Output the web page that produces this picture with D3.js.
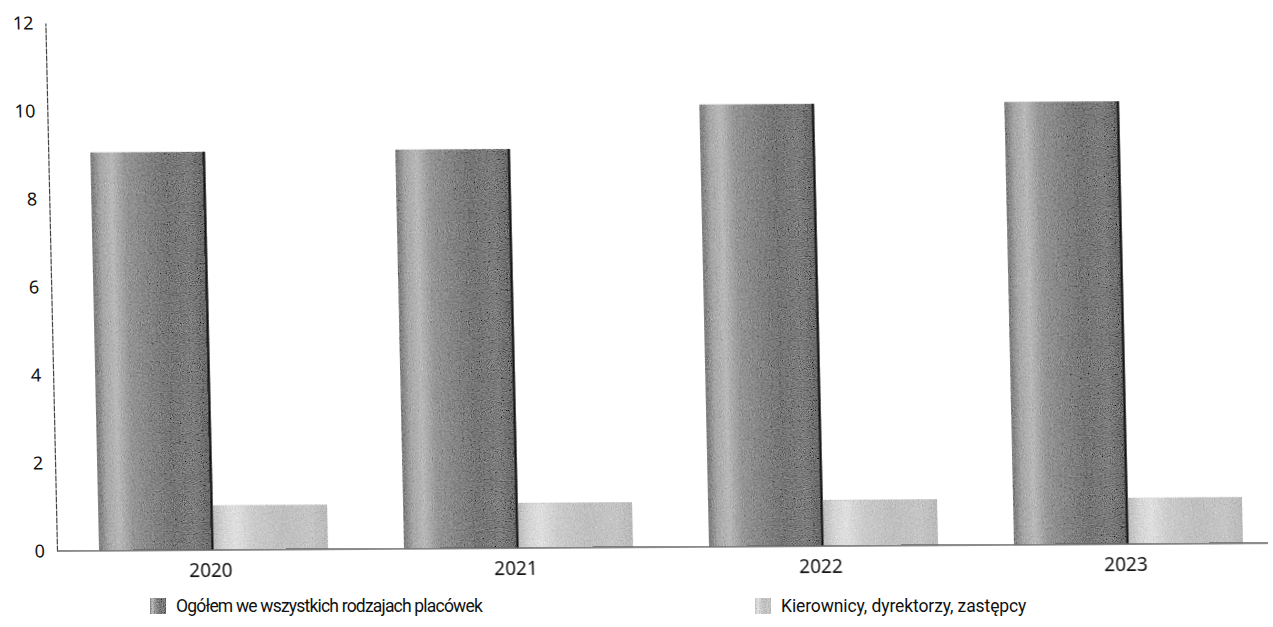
<!DOCTYPE html>
<html>
<head>
<meta charset="utf-8">
<script src="https://cdn.jsdelivr.net/npm/d3@7"></script>
<style>
  html, body { margin: 0; padding: 0; background: #fff; }
  svg { display: block; }
  text { font-family: "Noto Sans", "Open Sans", sans-serif; fill: #111; }
</style>
</head>
<body>
<svg id="chart" width="1273" height="627"></svg>
<script>
// Data
const years = ["2020", "2021", "2022", "2023"];
const ogolem = [9.05, 9.07, 10.05, 10.06];
const kierownicy = [1.01, 1.02, 1.04, 1.05];
const yTicks = [0, 2, 4, 6, 8, 10, 12];
const seriesNames = ["Ogółem we wszystkich rodzajach placówek", "Kierownicy, dyrektorzy, zastępcy"];

const origin = { x: 57, y: 551 };

const svg = d3.select("#chart");
const defs = svg.append("defs");

// Cylinder-style shading for the two series
function cylinder(id, stops) {
  const g = defs.append("linearGradient").attr("id", id)
    .attr("x1", "0%").attr("x2", "100%").attr("y1", "0%").attr("y2", "0%");
  stops.forEach(([o, c]) => g.append("stop").attr("offset", o).attr("stop-color", c));
}
cylinder("gDark", [
  ["0%", "#7a7a7a"], ["8%", "#a8a8a8"], ["18%", "#bababa"], ["30%", "#979797"],
  ["45%", "#888888"], ["65%", "#777777"], ["85%", "#7e7e7e"], ["100%", "#686868"]
]);
cylinder("gLight", [
  ["0%", "#bdbdbd"], ["10%", "#d6d6d6"], ["20%", "#e0e0e0"], ["35%", "#cccccc"],
  ["60%", "#c0c0c0"], ["85%", "#c6c6c6"], ["100%", "#bababa"]
]);

// Printed halftone grain on the filled areas
const grain = defs.append("filter").attr("id", "grain")
  .attr("x", "0").attr("y", "0").attr("width", "100%").attr("height", "100%");
grain.append("feTurbulence").attr("type", "fractalNoise").attr("baseFrequency", "0.9")
  .attr("numOctaves", 2).attr("seed", 7).attr("result", "noise");
grain.append("feColorMatrix").attr("in", "noise").attr("type", "matrix")
  .attr("values", "0.33 0.33 0.33 0 0  0.33 0.33 0.33 0 0  0.33 0.33 0.33 0 0  0 0 0 0 1")
  .attr("result", "gray");
grain.append("feComposite").attr("in", "SourceGraphic").attr("in2", "gray")
  .attr("operator", "arithmetic").attr("k1", 0).attr("k2", 1).attr("k3", 0.9).attr("k4", -0.45)
  .attr("result", "mix");
grain.append("feComposite").attr("in", "mix").attr("in2", "SourceGraphic").attr("operator", "in");

// Slight skew of the drawing around the plot origin
const skewX = 0.022, skewY = -0.0065;
const root = svg.append("g")
  .attr("transform", `matrix(1,${skewY},${skewX},1,${-skewX * origin.y},${-skewY * origin.x})`);

const y = d3.scaleLinear().domain([0, 12]).range([origin.y, 23]);
const x0 = d3.scaleBand().domain(years).range([61, 1281]).paddingInner(0.25).paddingOuter(0.125);
const x1 = d3.scaleBand().domain([0, 1]).range([0, x0.bandwidth()]);

// Y axis
const yAxis = d3.axisLeft(y).tickValues(yTicks).tickSize(0).tickPadding(12).tickFormat(d3.format("d"));
const gy = root.append("g").attr("transform", `translate(${origin.x},0)`).call(yAxis);
gy.select(".domain").attr("stroke", "#444").attr("stroke-width", 1.2).attr("stroke-dasharray", "6,1");
gy.selectAll("text").style("font-size", "18px").attr("fill", "#111");

// Bars
const barLayer = root.append("g").attr("filter", "url(#grain)");
const groups = barLayer.selectAll("g").data(years).join("g")
  .attr("transform", d => `translate(${x0(d)},0)`);

groups.append("rect")
  .attr("x", x1(0)).attr("width", x1.bandwidth())
  .attr("y", (d, i) => y(ogolem[i]))
  .attr("height", (d, i) => y(0) - y(ogolem[i]))
  .attr("fill", "url(#gDark)");
groups.append("rect")
  .attr("x", x1(1)).attr("width", x1.bandwidth())
  .attr("y", (d, i) => y(kierownicy[i]))
  .attr("height", (d, i) => y(0) - y(kierownicy[i]))
  .attr("fill", "url(#gLight)");
// dark edge on the right side of each tall bar
root.append("g").selectAll("line").data(years).join("line")
  .attr("x1", d => x0(d) + x1(1) - 1).attr("x2", d => x0(d) + x1(1) - 1)
  .attr("y1", (d, i) => y(ogolem[i]))
  .attr("y2", y(0))
  .attr("stroke", "#111").attr("stroke-width", 2);

// X axis
const xAxis = d3.axisBottom(x0).tickSize(0).tickPadding(14);
const gx = root.append("g").attr("transform", `translate(0,${origin.y})`).call(xAxis);
gx.select(".domain").attr("d", `M${origin.x},0H1268`).attr("stroke", "#666").attr("stroke-width", 1.6);
gx.selectAll(".tick").attr("transform", d => `translate(${x0(d) + x0.bandwidth() / 2 - 3},0)`);
gx.selectAll("text").style("font-size", "19px").attr("fill", "#111");

// Legend
const legend = svg.append("g").attr("transform", "translate(0,606)");
const legendX = [150, 755];
const spacing = ["-0.8px", "-0.1px"];
const fills = ["url(#gDark)", "url(#gLight)"];
seriesNames.forEach((name, i) => {
  const g = legend.append("g").attr("transform", `translate(${legendX[i]},0)`);
  g.append("rect").attr("x", 0).attr("y", -8).attr("width", 16).attr("height", 16)
    .attr("fill", fills[i]).attr("filter", "url(#grain)");
  g.append("text").attr("x", 26).attr("y", 0).attr("dy", "0.35em")
    .style("font-family", "Roboto, 'Noto Sans', sans-serif")
    .style("font-size", "17.5px").style("letter-spacing", spacing[i]).text(name);
});
</script>
</body>
</html>
